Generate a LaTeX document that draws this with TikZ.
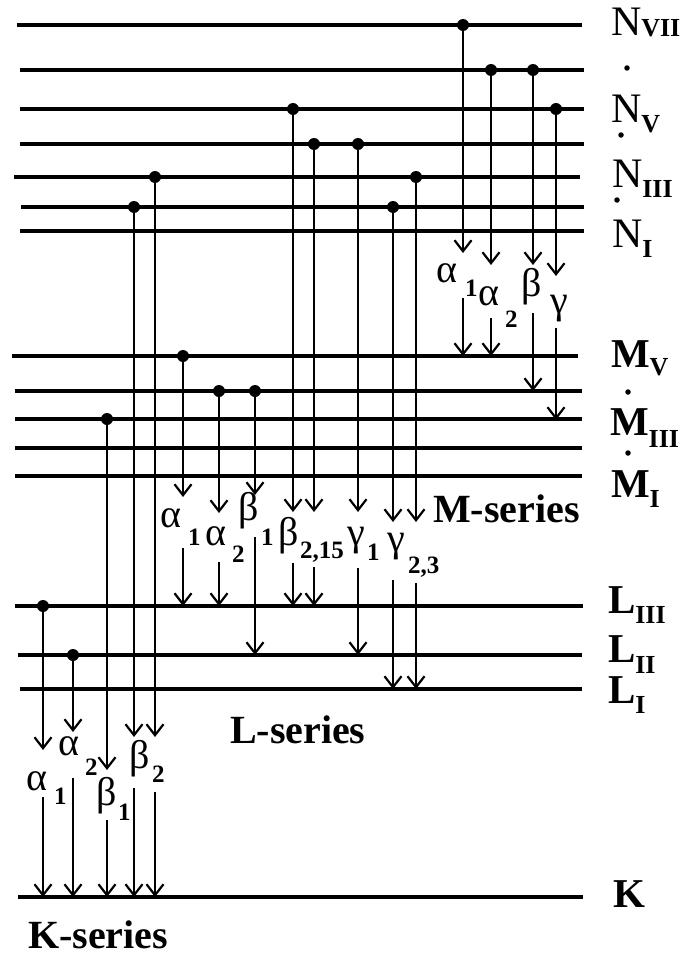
\documentclass[tikz,border=0pt]{standalone}
\usepackage{fontspec}
\setmainfont{Liberation Serif}
\usetikzlibrary{arrows.meta}
\newcommand{\sbs}[2]{\raisebox{-#1pt}{\fontsize{26}{26}\selectfont\bfseries #2}}
\begin{document}
\begin{tikzpicture}[x=1pt,y=-1pt,
  lvl/.style={line width=4.5pt},
  trans/.style={line width=2.2pt,-{Straight Barb[length=11pt,width=17pt]}},
  gk/.style={anchor=base west,inner sep=0pt,outer sep=0pt,font=\fontsize{40}{40}\selectfont},
  sb/.style={anchor=base west,inner sep=0pt,outer sep=0pt,font=\fontsize{25}{25}\selectfont\bfseries},
  lvlab/.style={anchor=base west,inner sep=0pt,outer sep=0pt,font=\fontsize{42}{42}\selectfont},
  lvlabb/.style={lvlab,font=\fontsize{41}{41}\selectfont\bfseries},
  ser/.style={anchor=base west,inner sep=0pt,outer sep=0pt,font=\fontsize{40}{40}\selectfont\bfseries},
  sepdot/.style={circle,fill=black,inner sep=0pt,minimum size=5.5pt},
  origin/.style={circle,fill=black,inner sep=0pt,minimum size=12pt}]
\useasboundingbox[fill=white] (0,0) rectangle (688,958);

% energy levels
\foreach \y/\xa/\xb/\n in {25/17/582/N7,70/20/584/N6,109/20/584/N5,144/20/584/N4,177/14/580/N3,207/21/584/N2,231/20/584/N1,
  356/12/578/M5,391/15/582/M4,419/15/582/M3,448/15/582/M2,476/15/582/M1,
  606/15/583/L3,655/18/582/L2,689/20/582/L1,897/18/583/K}{
  \coordinate (\n-w) at (\xa,\y);
  \coordinate (\n-e) at (\xb,\y);
  \draw[lvl] (\n-w) -- (\n-e);
}

% transitions: name / x / start / upper tip / lower start / lower end
\foreach \n/\x/\ya/\yb/\yc/\yd in {
  mA1/463/25/253/298/356, mA2/491/70/265/318/356, mB/533/70/265/313/391, mG/556/109/276/328/420,
  lA1/183/356/497/548/606, lA2/219/391/513/562/606, lB1/255/391/495/537/655,
  lB2a/293/109/512/563/606, lB2b/314/144/512/567/606, lG1/358/144/512/568/655,
  lG2a/393/207/522/580/689, lG2b/416/177/522/583/689,
  kA1/43/606/750/797/897, kA2/73/655/732/778/897, kB1/107/419/770/820/897,
  kB2a/134/207/737/788/897, kB2b/155/177/737/792/897}{
  \node[origin] (\n-s) at (\x,\ya) {};
  \coordinate (\n-t) at (\x,\yb);
  \coordinate (\n-u) at (\x,\yc);
  \coordinate (\n-e) at (\x,\yd);
  \draw[trans] (\n-s.center) -- (\n-t);
  \draw[trans] (\n-u) -- (\n-e);
}

% M-series labels
\node[gk] (gmA1) at (436,282) {α};  \node[sb] (smA1) at (465,296) {1};
\node[gk] (gmA2) at (478,305) {α};  \node[sb] (smA2) at (505,327) {2};
\node[gk] (gmB)  at (521,296) {β};
\node[gk] (gmG)  at (550,313) {γ};
% L-series labels
\node[gk] (glA1) at (160,527) {α};  \node[sb] (slA1) at (188,545) {1};
\node[gk] (glA2) at (205,545) {α};  \node[sb] (slA2) at (232,562) {2};
\node[gk] (glB1) at (238,520) {β};  \node[sb] (slB1) at (261,545) {1};
\node[gk] (glB2) at (278,545) {β};  \node[sb] (slB2) at (300,558) {2,15};
\node[gk] (glG1) at (347,545) {γ};  \node[sb] (slG1) at (367,560) {1};
\node[gk] (glG2) at (387,551) {γ};  \node[sb] (slG2) at (408,573) {2,3};
% K-series labels
\node[gk] (gkA1) at (26,790) {α};   \node[sb] (skA1) at (54,804) {1};
\node[gk] (gkA2) at (58,755) {α};   \node[sb] (skA2) at (85,775) {2};
\node[gk] (gkB1) at (96,805) {β};   \node[sb] (skB1) at (118,820) {1};
\node[gk] (gkB2) at (129,768) {β};  \node[sb] (skB2) at (152,782) {2};

% series names
\node[ser] (mser) at (433,522) {M-series};
\node[ser] (lser) at (230,743) {L-series};
\node[ser] (kser) at (28,948) {K-series};

% level labels
\node[lvlab] (tN7) at (611,36)  {N\sbs{1}{VII}};
\node[sepdot] (d1) at (627,68) {};
\node[lvlab] (tN5) at (611,122) {N\sbs{10}{V}};
\node[sepdot] (d2) at (621,135) {};
\node[lvlab] (tN3) at (612,187) {N\sbs{10}{III}};
\node[sepdot] (d3) at (617,200) {};
\node[lvlab] (tN1) at (612,247) {N\sbs{10}{I}};
\node[lvlabb] (tM5) at (611,367) {M\sbs{8}{V}};
\node[sepdot] (d4) at (628,392) {};
\node[lvlabb] (tM3) at (610,435) {M\sbs{12}{III}};
\node[sepdot] (d5) at (628,453) {};
\node[lvlabb] (tM1) at (611,497) {M\sbs{10}{I}};
\node[lvlabb] (tL3) at (608,613) {L\sbs{10}{III}};
\node[lvlabb] (tL2) at (608,662) {L\sbs{11}{II}};
\node[lvlabb] (tL1) at (608,703) {L\sbs{10}{I}};
\node[lvlabb] (tK)  at (613,907) {K};
\end{tikzpicture}
\end{document}
